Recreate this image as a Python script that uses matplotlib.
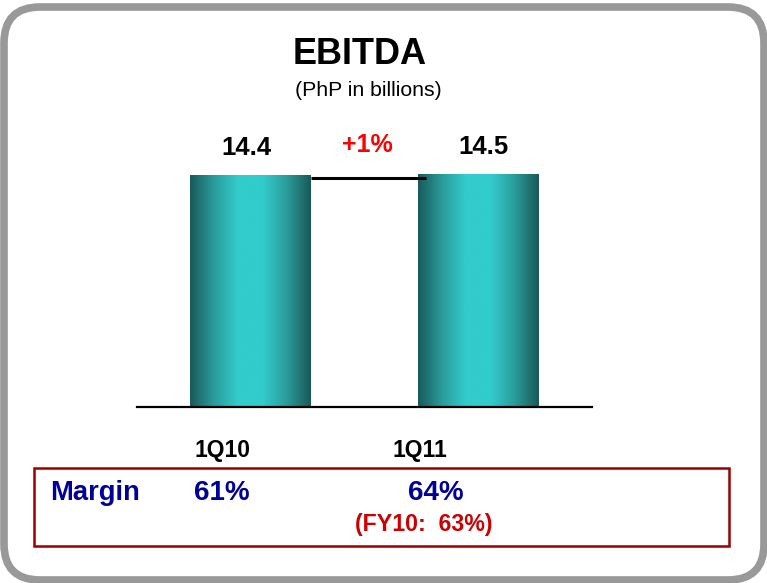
import numpy as np
from matplotlib import pyplot as plt
from matplotlib.colors import LinearSegmentedColormap
from matplotlib.patches import FancyBboxPatch, Rectangle

plt.rcParams['font.family'] = ['Liberation Sans', 'DejaVu Sans']

# Data
periods = ['1Q10', '1Q11']
ebitda = [14.4, 14.5]
value_labels = ['14.4', '14.5']
margins = ['61%', '64%']
growth_label = '+1%'
fy_note = '(FY10:  63%)'

W, H = 767, 583
fig = plt.figure(figsize=(W / 100, H / 100), dpi=100)

# background layer in pixel coords (frame, titles, margin box)
bg = fig.add_axes([0, 0, 1, 1], zorder=0)
bg.set_xlim(0, W)
bg.set_ylim(H, 0)
bg.axis('off')

frame = FancyBboxPatch((4, 7), 760, 573, boxstyle='round,pad=0,rounding_size=36',
                       fc='white', ec='#999999', lw=5.5)
bg.add_patch(frame)

bg.text(360, 54, 'EBITDA', ha='center', va='center', fontsize=26, fontweight='bold')
bg.text(368, 91, '(PhP in billions)', ha='center', va='center', fontsize=15.3)

# bars
ax = fig.add_axes([137 / W, (H - 407) / H, 455 / W, 256.7 / H], zorder=1)
ax.patch.set_alpha(0)
ax.set_xlim(-0.5, 1.5)
ax.set_ylim(0, 16)
for s in ['top', 'left', 'right']:
    ax.spines[s].set_visible(False)
ax.spines['bottom'].set_linewidth(1.6)
ax.set_xticks([])
ax.set_yticks([])

cmap = LinearSegmentedColormap.from_list('teal', ['#1a5a5a', '#2a9c9c', '#33cccc',
                                                  '#33cccc', '#2a9c9c', '#1b5858'])
grad = np.linspace(0, 1, 256).reshape(1, -1)
bw = 0.53
label_dx = [-3, 4]
for i, v in enumerate(ebitda):
    ax.imshow(grad, cmap=cmap, extent=(i - bw / 2, i + bw / 2, 0, v),
              aspect='auto', interpolation='bicubic', zorder=2)
    ax.annotate(value_labels[i], xy=(i, v), xytext=(label_dx[i], 20),
                textcoords='offset points', ha='center', va='center',
                fontsize=18.5, fontweight='bold', annotation_clip=False)

# connector between bars
ax.plot([bw / 2, 1 - bw / 2 + 0.035], [ebitda[0] - 0.1, ebitda[0] - 0.1],
        color='black', lw=2.2, zorder=3, solid_capstyle='butt')
ax.set_xlim(-0.5, 1.5)
ax.set_ylim(0, 16)

bg.text(367, 145, growth_label, ha='center', va='center', fontsize=18,
        fontweight='bold', color='#ff0000')

# category labels
cat_x = [222, 420]
for x, p in zip(cat_x, periods):
    bg.text(x, 451, p, ha='center', va='center', fontsize=16.5, fontweight='bold')

# margin box
bg.add_patch(Rectangle((34, 468), 695, 78, fc='none', ec='#990000', lw=1.8))
bg.text(50, 493, 'Margin', ha='left', va='center', fontsize=19.7,
        fontweight='bold', color='#000099')
for x, m in zip([222, 436], margins):
    bg.text(x, 493, m, ha='center', va='center', fontsize=20,
            fontweight='bold', color='#000099')
bg.text(424, 524, fy_note, ha='center', va='center', fontsize=16.7,
        fontweight='bold', color='#cc0000')

fig.savefig('out.png', dpi=100)
